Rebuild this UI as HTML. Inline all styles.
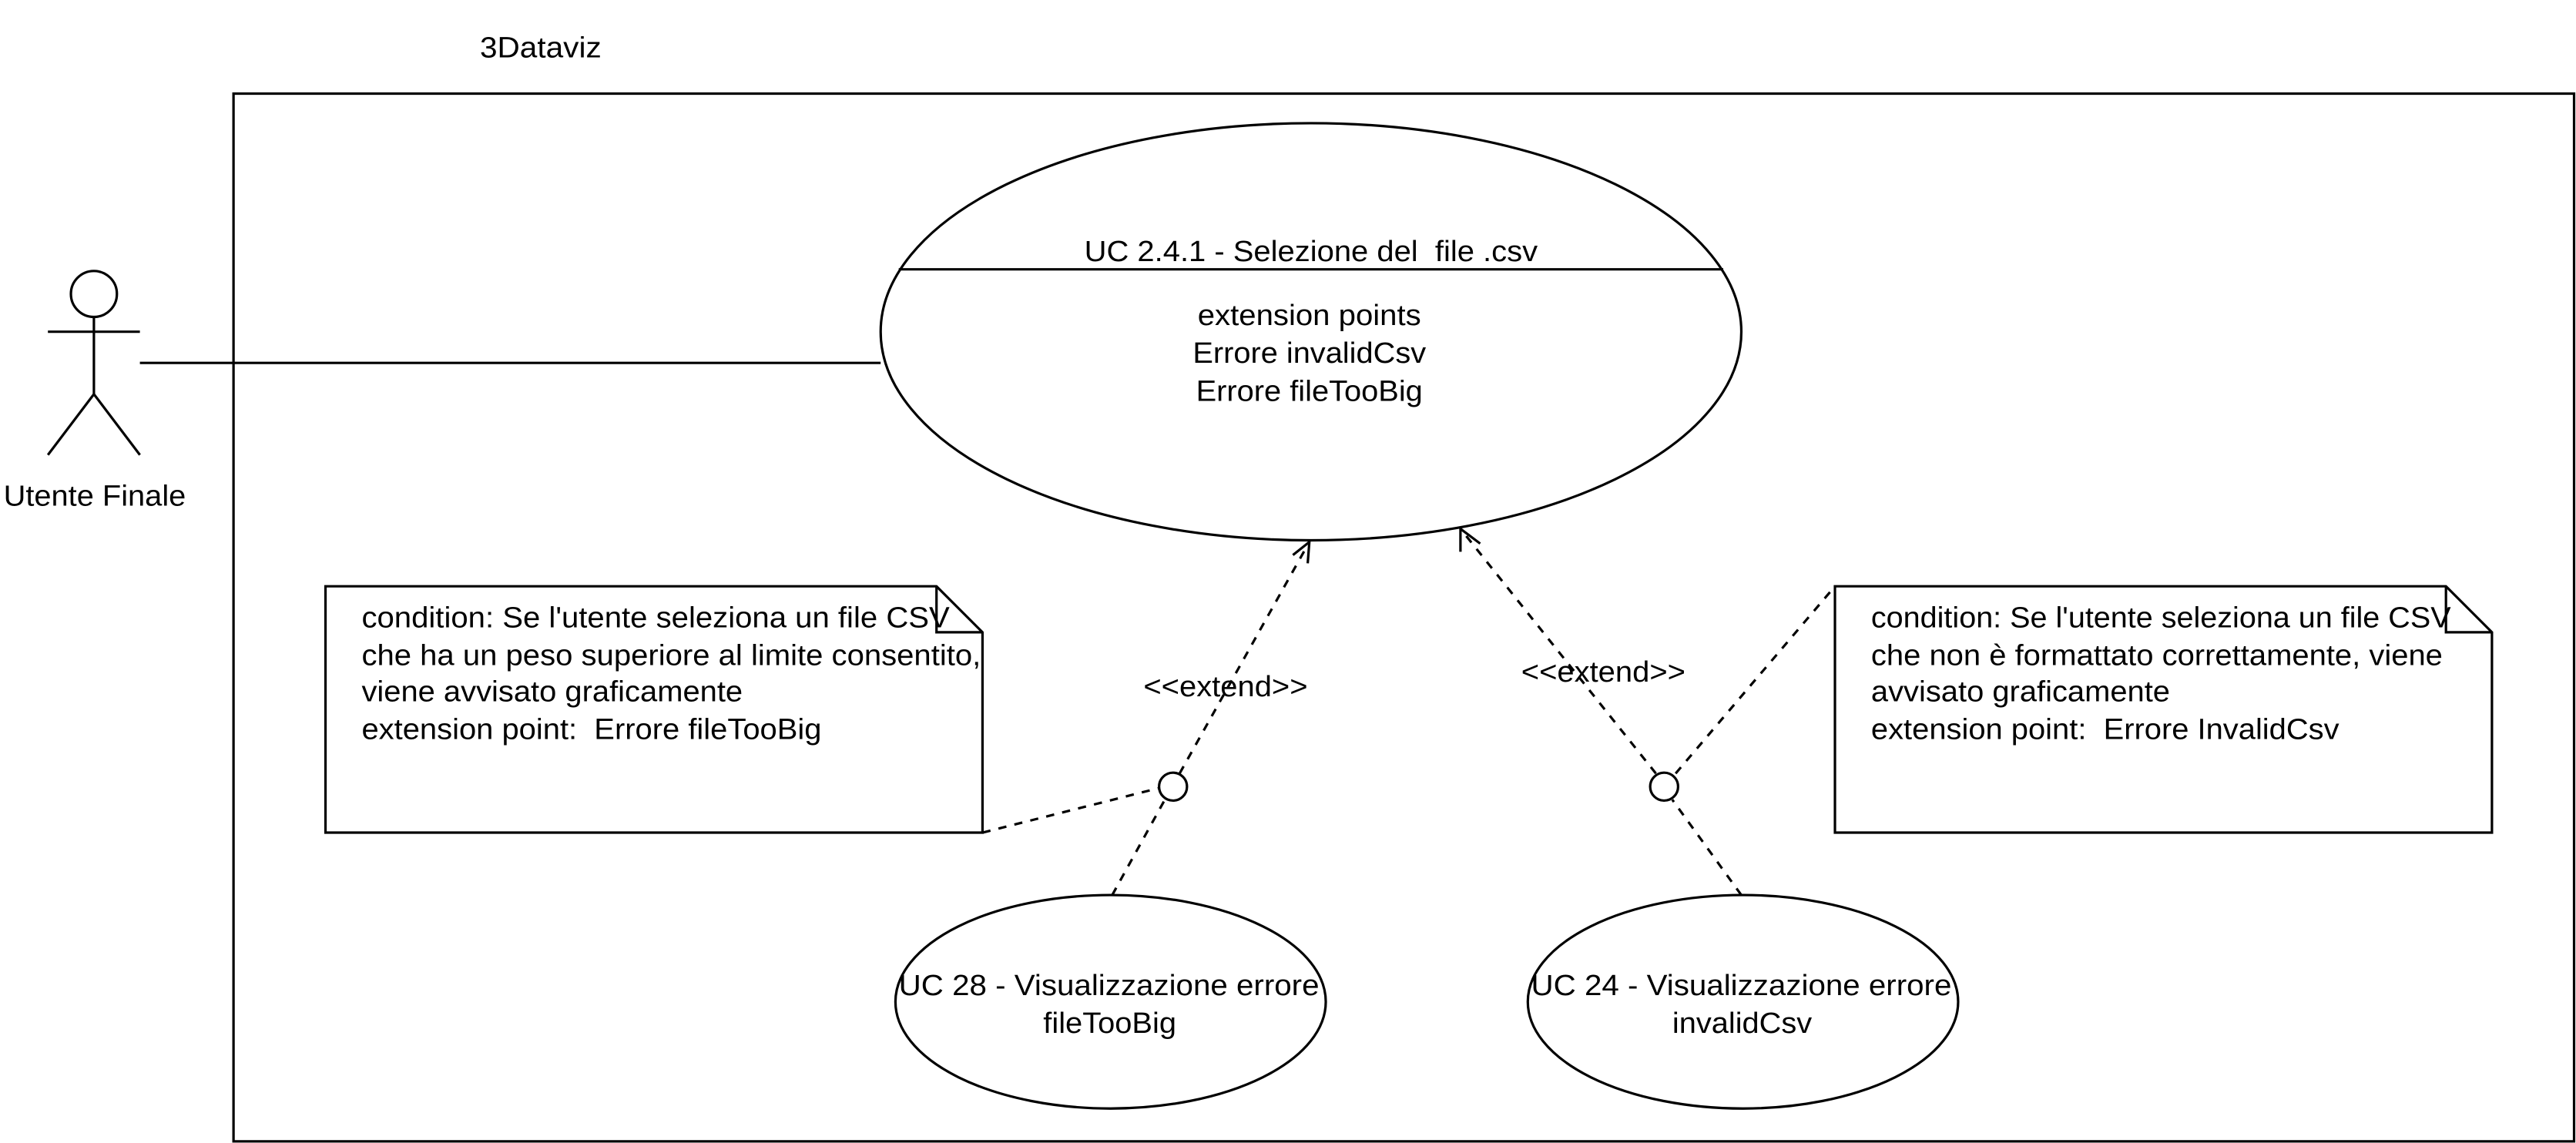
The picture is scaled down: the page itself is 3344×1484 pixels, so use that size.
<!DOCTYPE html>
<html><head><meta charset="utf-8"><style>
html,body{margin:0;padding:0;background:#fff;}
svg{display:block;}
text{font-family:"Liberation Sans",Arial,sans-serif;font-size:18px;fill:#000;white-space:pre;}
</style></head><body>
<svg width="3344" height="1484" viewBox="0 0 1568 696" xmlns="http://www.w3.org/2000/svg">
<rect width="1568" height="696" fill="#fff"/>
<text x="292" y="35" textLength="74" lengthAdjust="spacingAndGlyphs">3Dataviz</text>
<rect x="142" y="57" width="1425" height="638" fill="none" stroke="#000" stroke-width="1.5"/>
<g fill="none" stroke="#000" stroke-width="1.5">
<circle cx="57" cy="179" r="14"/>
<line x1="57" y1="193" x2="57" y2="240"/>
<line x1="29" y1="202" x2="85" y2="202"/>
<line x1="57" y1="240" x2="29" y2="277"/>
<line x1="57" y1="240" x2="85" y2="277"/>
<line x1="85" y1="221" x2="536" y2="221"/>
<ellipse cx="798" cy="202" rx="262" ry="127"/>
<line x1="547" y1="164" x2="1049" y2="164"/>
<ellipse cx="676" cy="610" rx="131" ry="65"/>
<ellipse cx="1061" cy="610" rx="131" ry="65"/>
<path d="M198 357 H570 L598 385 V507 H198 Z M570 357 V385 H598"/>
<path d="M1117 357 H1489 L1517 385 V507 H1117 Z M1489 357 V385 H1517"/>
<circle cx="714" cy="479" r="8.5"/>
<circle cx="1013" cy="479" r="8.5"/>
</g>
<g fill="none" stroke="#000" stroke-width="1.5" stroke-dasharray="5,5">
<line x1="677" y1="545" x2="709" y2="487"/>
<line x1="718" y1="471" x2="797" y2="330"/>
<line x1="598" y1="507" x2="705" y2="480"/>
<line x1="1060" y1="545" x2="1018" y2="487"/>
<line x1="1008" y1="471" x2="889" y2="322"/>
<line x1="1020" y1="471" x2="1117" y2="357"/>
</g>
<g fill="none" stroke="#000" stroke-width="1.5">
<path d="M787 338 L797 330 L796 343"/>
<path d="M889 336 L889 322 L901 331"/>
</g>
<text x="2" y="308" textLength="111" lengthAdjust="spacingAndGlyphs">Utente Finale</text>
<text x="660" y="159" textLength="276" lengthAdjust="spacingAndGlyphs">UC 2.4.1 - Selezione del  file .csv</text>
<text x="729" y="198" textLength="136" lengthAdjust="spacingAndGlyphs">extension points</text>
<text x="726" y="221" textLength="142" lengthAdjust="spacingAndGlyphs">Errore invalidCsv</text>
<text x="728" y="244" textLength="138" lengthAdjust="spacingAndGlyphs">Errore fileTooBig</text>
<text x="220" y="382" textLength="358" lengthAdjust="spacingAndGlyphs">condition: Se l'utente seleziona un file CSV</text>
<text x="220" y="405" textLength="377" lengthAdjust="spacingAndGlyphs">che ha un peso superiore al limite consentito,</text>
<text x="220" y="427" textLength="232" lengthAdjust="spacingAndGlyphs">viene avvisato graficamente</text>
<text x="220" y="450" textLength="280" lengthAdjust="spacingAndGlyphs">extension point:  Errore fileTooBig</text>
<text x="1139" y="382" textLength="353" lengthAdjust="spacingAndGlyphs">condition: Se l'utente seleziona un file CSV</text>
<text x="1139" y="405" textLength="348" lengthAdjust="spacingAndGlyphs">che non è formattato correttamente, viene</text>
<text x="1139" y="427" textLength="182" lengthAdjust="spacingAndGlyphs">avvisato graficamente</text>
<text x="1139" y="450" textLength="285" lengthAdjust="spacingAndGlyphs">extension point:  Errore InvalidCsv</text>
<text x="696" y="424" textLength="100" lengthAdjust="spacingAndGlyphs">&lt;&lt;extend&gt;&gt;</text>
<text x="926" y="415" textLength="100" lengthAdjust="spacingAndGlyphs">&lt;&lt;extend&gt;&gt;</text>
<text x="547" y="606" textLength="256" lengthAdjust="spacingAndGlyphs">UC 28 - Visualizzazione errore</text>
<text x="635" y="629" textLength="81" lengthAdjust="spacingAndGlyphs">fileTooBig</text>
<text x="932" y="606" textLength="256" lengthAdjust="spacingAndGlyphs">UC 24 - Visualizzazione errore</text>
<text x="1018" y="629" textLength="85" lengthAdjust="spacingAndGlyphs">invalidCsv</text>
</svg>
</body></html>
